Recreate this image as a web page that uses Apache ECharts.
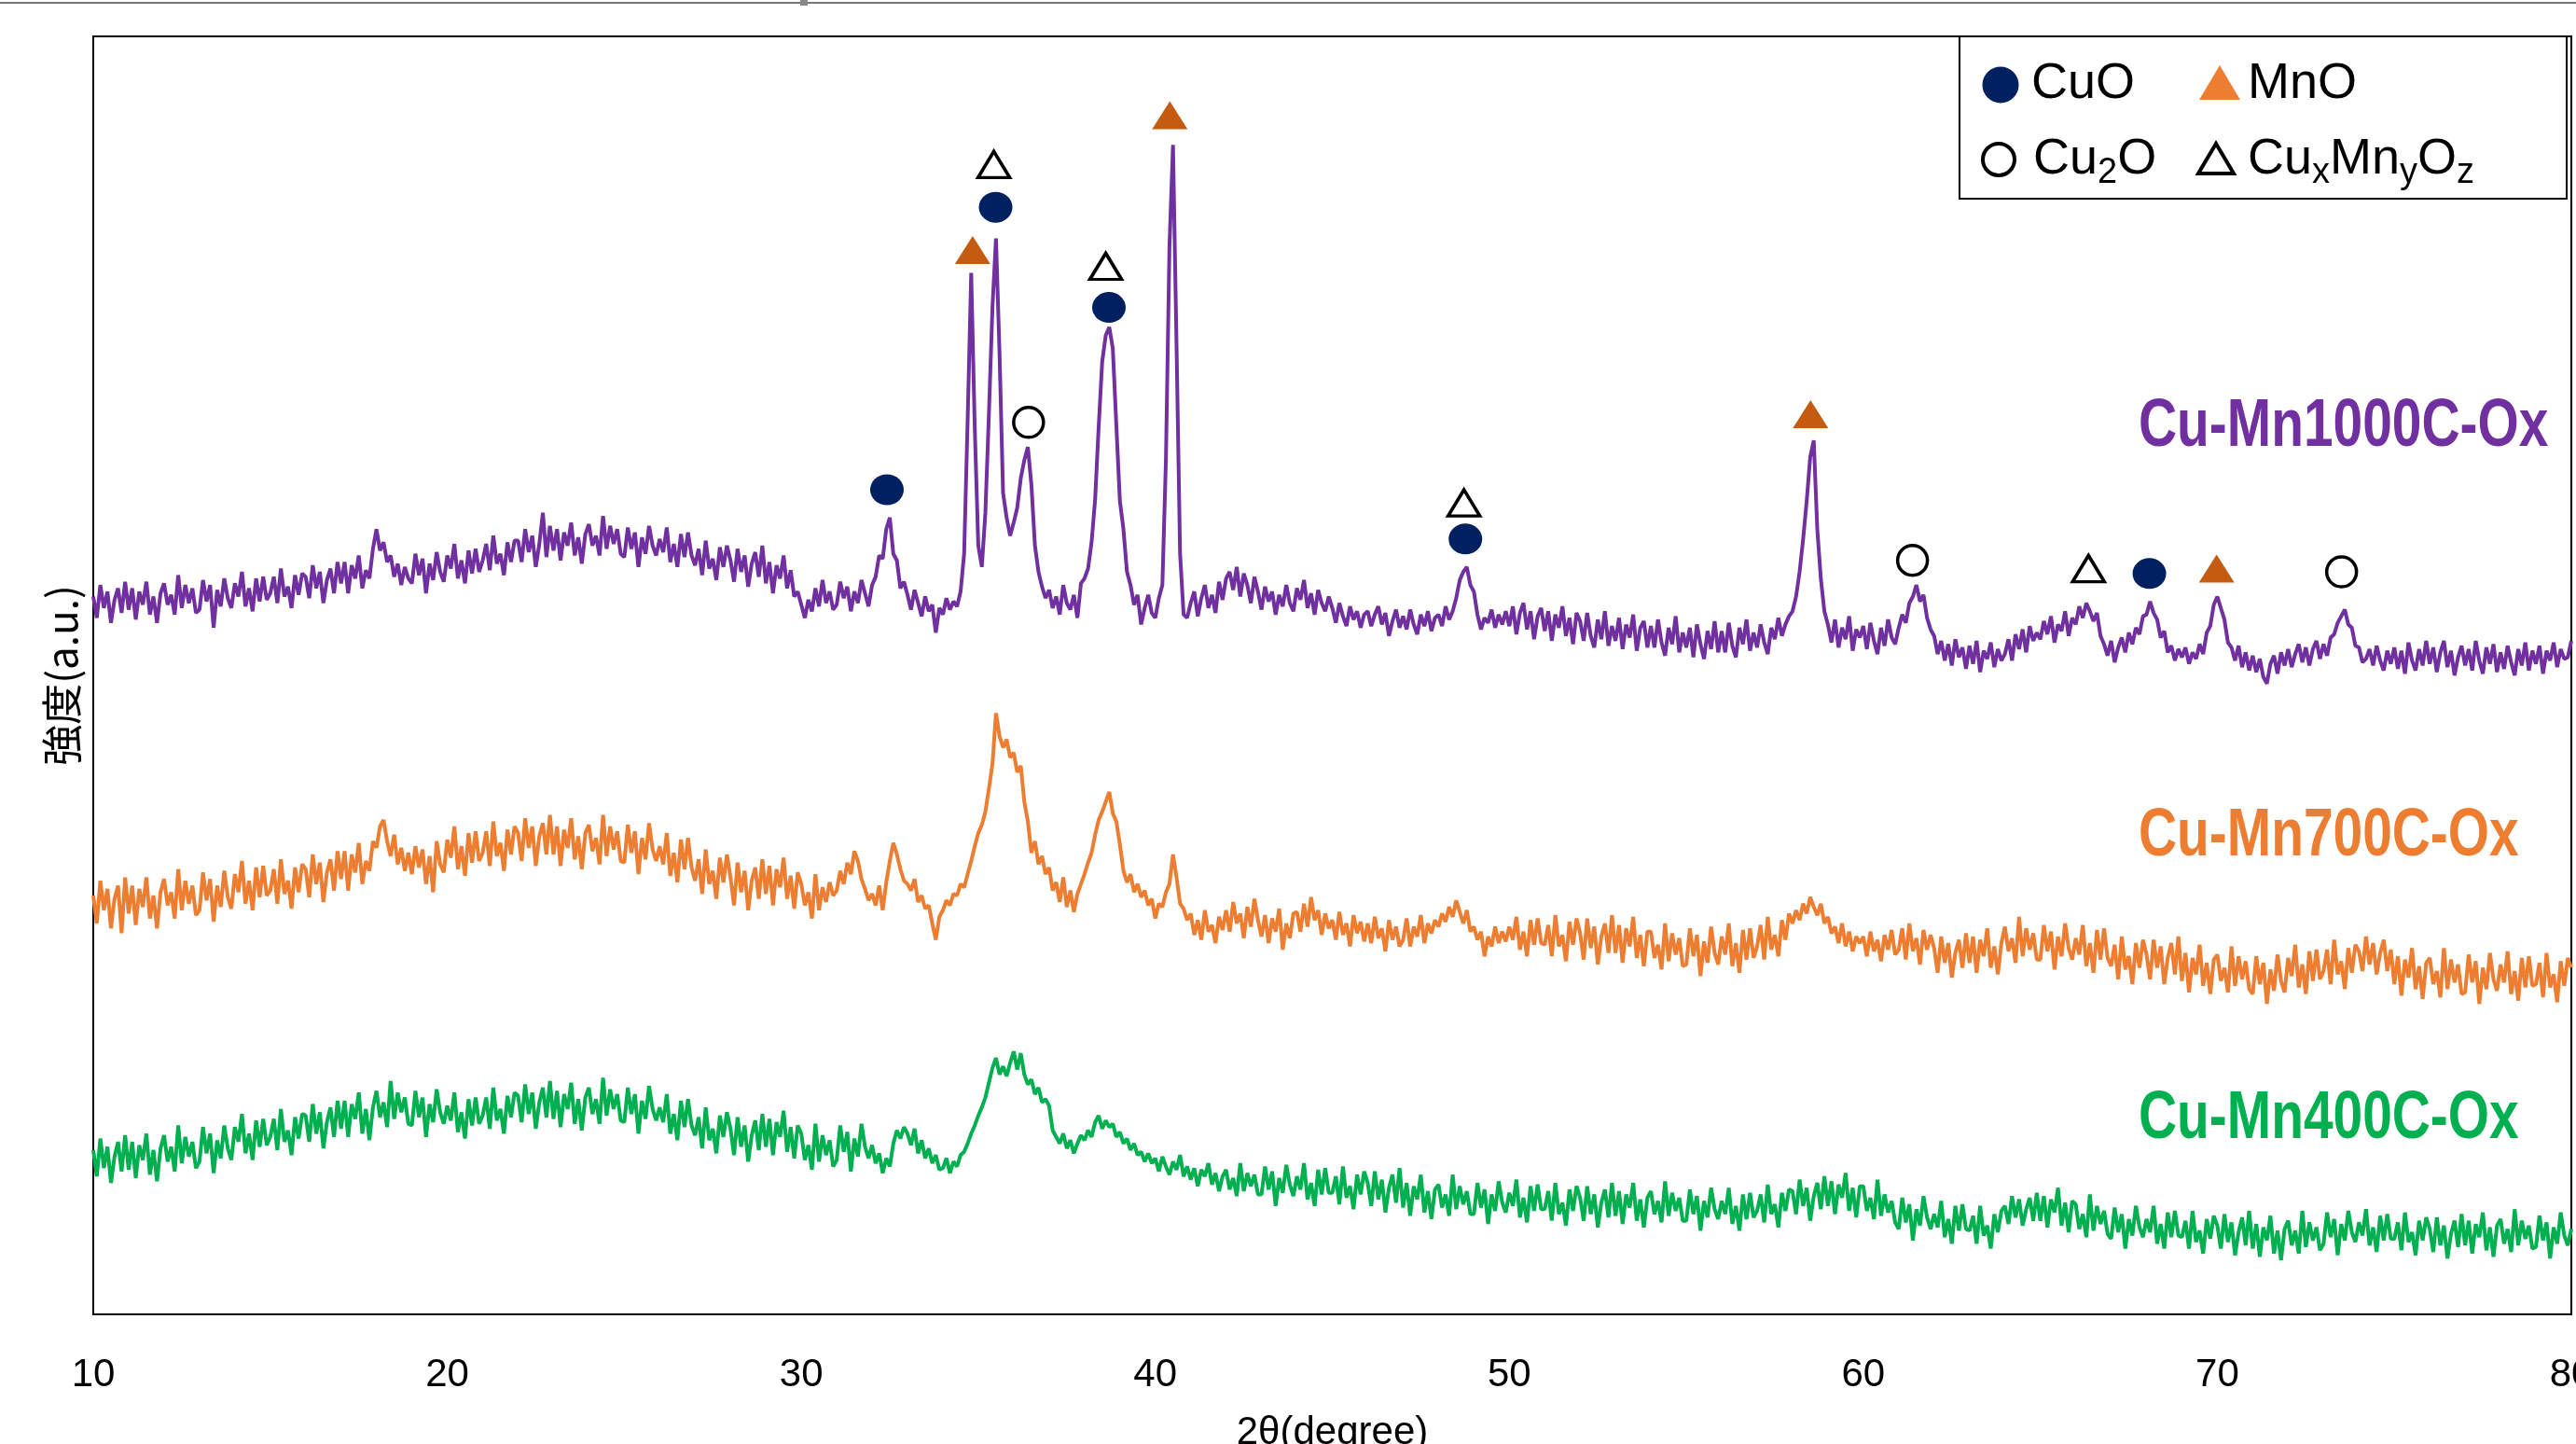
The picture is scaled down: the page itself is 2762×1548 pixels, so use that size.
<!DOCTYPE html>
<html>
<head>
<meta charset="utf-8">
<script src="https://cdn.jsdelivr.net/npm/echarts@6/dist/echarts.min.js"></script>
<style>
  html, body { margin: 0; padding: 0; background: #fff; overflow: hidden; }
  #box { width: 2762px; height: 1548px; }
</style>
</head>
<body>
<div id="box"></div>
<script>
// scan: 10-80 deg, 0.1 deg step, one row = 1 deg (arbitrary units)
var scanStart = 10, scanStep = 0.1;

var cuMn1000 = [
  437, 424, 444, 430, 440, 421, 435, 442, 427, 446,
  429, 442, 423, 440, 432, 446, 426, 437, 421, 439,
  445, 432, 438, 426, 450, 430, 444, 433, 442, 427,
  429, 447, 434, 444, 418, 441, 431, 448, 436, 430,
  445, 437, 452, 431, 442, 428, 448, 434, 449, 435,
  439, 449, 433, 454, 437, 443, 430, 450, 438, 451,
  449, 436, 456, 442, 452, 433, 447, 454, 439, 458,
  445, 458, 439, 456, 448, 462, 442, 453, 448, 466,
  478, 465, 470, 458, 462, 449, 457, 444, 455, 448,
  445, 463, 450, 460, 439, 457, 447, 464, 452, 446,
  462, 454, 469, 448, 459, 445, 465, 451, 466, 452,
  459, 469, 453, 474, 457, 463, 450, 470, 458, 471,
  471, 458, 478, 464, 474, 455, 469, 488, 461, 480,
  465, 478, 459, 476, 468, 482, 462, 473, 457, 475,
  481, 468, 474, 462, 486, 466, 480, 469, 478, 463,
  461, 479, 466, 476, 455, 473, 463, 480, 468, 462,
  472, 464, 479, 458, 469, 455, 475, 461, 476, 462,
  456, 466, 450, 471, 454, 460, 447, 467, 455, 468,
  459, 446, 466, 452, 462, 443, 457, 464, 449, 468,
  445, 458, 439, 456, 448, 462, 442, 453, 437, 440,
  432, 424, 435, 428, 442, 431, 447, 433, 440, 429,
  432, 446, 436, 443, 428, 440, 433, 447, 439, 431,
  444, 449, 462, 460, 478, 485, 463, 459, 442, 446,
  438, 429, 441, 433, 425, 437, 428, 432, 415, 430,
  426, 436, 429, 434, 431, 440, 463, 545, 634, 540,
  468, 455, 488, 548, 613, 655, 585, 500, 485, 474,
  482, 491, 509, 520, 528, 505, 468, 452, 443, 436,
  441, 430, 437, 426, 444, 433, 429, 438, 424, 445,
  448, 454, 470, 496, 540, 580, 596, 601, 588, 541,
  495, 478, 452, 444, 432, 438, 420, 430, 438, 427,
  424, 436, 444, 520, 650, 712, 590, 463, 426, 424,
  433, 440, 425, 436, 444, 430, 438, 427, 446, 435,
  448, 452, 441, 455, 437, 451, 444, 433, 449, 440,
  429, 443, 434, 440, 426, 438, 431, 444, 433, 428,
  442, 435, 447, 430, 439, 426, 441, 433, 428, 437,
  430, 421, 433, 425, 419, 431, 423, 428, 418, 426,
  428, 419, 426, 431, 420, 427, 413, 422, 429, 418,
  425, 417, 429, 420, 414, 426, 419, 428, 416, 424,
  426, 419, 431, 423, 428, 436, 447, 452, 455, 444,
  440, 426, 417, 424, 421, 429, 418, 426, 420, 428,
  419, 431, 414, 427, 433, 417, 428, 411, 425, 430,
  416, 428, 410, 426, 418, 431, 413, 424, 408, 427,
  422, 410, 427, 413, 406, 423, 411, 428, 407, 419,
  410, 424, 405, 420, 412, 426, 404, 418, 422, 406,
  419, 406, 423, 409, 401, 418, 408, 425, 403, 415,
  406, 418, 400, 420, 408, 399, 416, 405, 422, 403,
  416, 403, 421, 407, 400, 418, 408, 423, 404, 415,
  406, 420, 409, 402, 418, 411, 424, 413, 420, 425,
  428, 437, 452, 472, 495, 522, 532, 478, 448, 428,
  420, 409, 423, 406, 418, 411, 425, 404, 417, 412,
  419, 405, 421, 410, 402, 418, 407, 423, 412, 408,
  418, 426, 421, 433, 437, 444, 434, 438, 424, 417,
  413, 402, 410, 398, 408, 395, 411, 400, 406, 393,
  407, 396, 410, 391, 404, 399, 409, 394, 405, 398,
  402, 411, 398, 414, 405, 417, 403, 419, 410, 415,
  411, 422, 414, 425, 409, 420, 416, 428, 413, 424,
  420, 431, 424, 433, 428, 422, 427, 413, 408, 401,
  410, 397, 406, 412, 403, 415, 408, 418, 414, 425,
  426, 434, 427, 423, 412, 416, 403, 407, 398, 405,
  400, 406, 396, 403, 399, 408, 402, 415, 419, 432,
  437, 430, 423, 409, 406, 398, 407, 394, 403, 392,
  401, 391, 399, 388, 384, 396, 401, 390, 403, 395,
  405, 394, 402, 408, 397, 406, 395, 405, 410, 399,
  408, 401, 412, 414, 421, 425, 429, 420, 418, 407,
  406, 397, 399, 405, 395, 407, 398, 392, 404, 396,
  406, 393, 404, 390, 409, 398, 392, 405, 395, 410,
  396, 406, 391, 403, 410, 394, 404, 389, 400, 407,
  395, 405, 392, 410, 398, 390, 406, 396, 408, 391,
  403, 393, 407, 397, 389, 405, 395, 409, 392, 404,
  396, 407, 390, 404, 398, 409, 394, 405, 399, 400,
  410
];

var cuMn700 = [
  255, 238, 264, 246, 259, 235, 253, 261, 232, 266,
  244, 261, 237, 259, 248, 266, 241, 255, 235, 257,
  265, 249, 257, 241, 271, 246, 264, 250, 261, 243,
  246, 269, 252, 265, 239, 261, 248, 270, 254, 247,
  268, 257, 276, 250, 264, 246, 272, 254, 273, 255,
  258, 271, 250, 277, 256, 264, 247, 272, 257, 274,
  271, 254, 280, 262, 275, 251, 269, 277, 258, 282,
  265, 282, 258, 280, 269, 287, 262, 276, 270, 288,
  284, 297, 301, 288, 279, 292, 274, 284, 270, 281,
  268, 285, 272, 283, 262, 279, 257, 288, 274, 269,
  289, 278, 297, 271, 285, 267, 293, 275, 294, 276,
  281, 294, 273, 300, 279, 287, 270, 295, 280, 297,
  293, 276, 302, 284, 297, 273, 291, 299, 280, 304,
  280, 297, 273, 295, 284, 302, 277, 291, 271, 293,
  298, 282, 290, 274, 304, 279, 297, 283, 294, 276,
  275, 298, 281, 294, 268, 290, 277, 299, 283, 276,
  285, 274, 293, 267, 281, 263, 289, 271, 290, 272,
  264, 277, 256, 283, 262, 270, 253, 278, 263, 280,
  266, 249, 275, 257, 270, 246, 264, 272, 253, 277,
  256, 273, 249, 271, 260, 278, 253, 267, 247, 269,
  262, 249, 257, 241, 268, 246, 260, 251, 263, 255,
  258, 270, 262, 275, 268, 282, 276, 265, 259, 252,
  256, 249, 261, 246, 263, 276, 287, 280, 271, 264,
  262, 258, 265, 251, 255, 247, 249, 238, 228, 242,
  246, 252, 249, 256, 255, 262, 260, 268, 276, 285,
  293, 298, 306, 320, 335, 366, 352, 345, 350, 339,
  342, 330, 334, 312, 300, 281, 288, 274, 279, 268,
  272, 258, 263, 251, 266, 248, 258, 245, 256, 262,
  268, 275, 281, 292, 301, 306, 312, 318, 305, 300,
  286, 270, 263, 268, 257, 262, 254, 258, 249, 253,
  241, 250, 248, 257, 262, 280, 266, 250, 247, 240,
  244, 231, 240, 228, 246, 233, 237, 226, 242, 234,
  246, 233, 251, 238, 244, 229, 248, 236, 253, 240,
  230, 243, 226, 241, 233, 247, 222, 238, 229, 244,
  245, 233, 250, 236, 254, 240, 246, 231, 244, 235,
  240, 228, 245, 231, 238, 224, 243, 232, 239, 227,
  238, 226, 242, 229, 235, 221, 240, 228, 236, 224,
  228, 241, 224, 236, 230, 243, 226, 238, 232, 240,
  236, 244, 239, 248, 242, 252, 245, 238, 246, 233,
  236, 228, 233, 218, 230, 224, 236, 226, 233, 227,
  236, 228, 242, 222, 233, 218, 240, 225, 241, 226,
  225, 237, 218, 243, 224, 231, 215, 239, 225, 241,
  232, 216, 241, 223, 236, 213, 230, 238, 220, 243,
  220, 237, 214, 235, 224, 242, 217, 231, 212, 233,
  233, 217, 225, 210, 238, 215, 232, 219, 229, 212,
  213, 235, 218, 231, 206, 227, 214, 236, 220, 213,
  230, 219, 238, 212, 226, 208, 234, 216, 235, 217,
  224, 237, 216, 242, 222, 231, 218, 240, 228, 244,
  238, 246, 240, 250, 244, 254, 248, 243, 250, 238,
  242, 232, 236, 226, 238, 224, 233, 221, 230, 226,
  230, 218, 233, 221, 228, 215, 231, 222, 234, 219,
  222, 235, 216, 238, 221, 229, 213, 234, 222, 231,
  223, 208, 230, 214, 226, 205, 220, 228, 211, 232,
  214, 230, 208, 228, 218, 235, 211, 224, 207, 226,
  236, 221, 229, 214, 242, 218, 235, 222, 232, 216,
  216, 237, 221, 233, 210, 230, 218, 238, 223, 216,
  229, 219, 237, 212, 226, 208, 234, 216, 235, 217,
  212, 225, 204, 230, 210, 218, 201, 226, 211, 228,
  219, 204, 228, 211, 224, 201, 217, 226, 207, 230,
  203, 220, 196, 217, 207, 225, 200, 214, 195, 216,
  219, 203, 211, 196, 224, 200, 218, 204, 215, 198,
  195, 218, 201, 214, 189, 210, 197, 219, 203, 196,
  217, 206, 225, 199, 213, 195, 221, 203, 222, 204,
  209, 222, 201, 228, 207, 215, 198, 223, 208, 225,
  221, 209, 230, 213, 226, 207, 220, 228, 209, 222,
  201, 218, 194, 216, 205, 223, 198, 212, 192, 214,
  217, 201, 209, 193, 223, 198, 216, 202, 213, 195,
  196, 219, 202, 215, 189, 211, 198, 220, 204, 197,
  213, 202, 221, 195, 209, 191, 217, 199, 218, 200,
  201, 214, 193, 220, 199, 207, 190, 215, 200, 217,
  211
];

var cuMn400 = [
  100, 84, 107, 89, 102, 80, 96, 105, 87, 109,
  88, 105, 83, 103, 94, 110, 85, 100, 81, 101,
  109, 93, 102, 87, 115, 92, 108, 96, 105, 89,
  93, 114, 98, 110, 86, 106, 95, 115, 101, 94,
  114, 105, 122, 98, 110, 94, 118, 102, 119, 103,
  108, 119, 100, 125, 105, 112, 97, 120, 107, 122,
  121, 105, 128, 110, 123, 101, 117, 126, 108, 130,
  113, 130, 108, 128, 119, 135, 110, 125, 106, 126,
  136, 120, 129, 114, 142, 119, 135, 123, 132, 116,
  115, 136, 120, 132, 108, 128, 117, 137, 123, 116,
  127, 118, 135, 111, 123, 107, 131, 115, 132, 116,
  121, 132, 113, 138, 118, 125, 110, 133, 120, 135,
  133, 117, 140, 122, 135, 113, 129, 138, 120, 142,
  119, 136, 114, 134, 125, 141, 116, 131, 112, 132,
  138, 122, 131, 116, 144, 121, 137, 125, 134, 118,
  117, 138, 122, 134, 110, 130, 119, 139, 125, 118,
  126, 117, 134, 110, 122, 106, 130, 114, 131, 115,
  109, 120, 101, 126, 106, 113, 98, 121, 108, 123,
  113, 97, 120, 102, 115, 93, 109, 118, 100, 122,
  102, 119, 97, 117, 108, 124, 99, 114, 95, 115,
  110, 94, 103, 88, 116, 93, 109, 97, 106, 90,
  94, 115, 99, 111, 87, 107, 96, 116, 102, 95,
  103, 92, 98, 86, 95, 90, 104, 112, 107, 114,
  110, 103, 113, 98, 106, 95, 101, 92, 97, 88,
  89, 95, 86, 93, 90, 97, 99, 104, 110, 115,
  121, 126, 132, 141, 150, 156, 146, 151, 145, 153,
  160, 149, 159, 146, 140, 143, 134, 138, 129, 131,
  127, 112, 108, 104, 110, 101, 106, 98, 104, 109,
  106, 112, 108, 117, 121, 113, 118, 114, 116, 108,
  111, 104, 107, 100, 104, 97, 99, 93, 98, 92,
  95, 87, 96, 90, 85, 93, 88, 97, 84, 90,
  82, 89, 78, 88, 84, 92, 79, 86, 75, 84,
  88, 76, 83, 72, 92, 75, 86, 78, 85, 73,
  73, 90, 76, 87, 66, 83, 74, 91, 79, 72,
  84, 76, 92, 70, 80, 66, 88, 73, 89, 74,
  74, 84, 67, 90, 71, 78, 64, 85, 73, 87,
  80, 66, 87, 70, 82, 62, 77, 85, 68, 89,
  65, 80, 60, 78, 70, 85, 62, 75, 58, 76,
  79, 65, 73, 60, 85, 64, 78, 67, 75, 61,
  61, 80, 65, 76, 55, 73, 63, 81, 68, 62,
  74, 66, 82, 59, 71, 56, 78, 63, 79, 64,
  64, 75, 57, 80, 61, 68, 54, 76, 63, 78,
  71, 57, 78, 61, 73, 53, 68, 76, 59, 80,
  60, 75, 55, 73, 65, 80, 57, 70, 53, 71,
  75, 61, 69, 56, 81, 60, 74, 63, 71, 57,
  57, 76, 61, 72, 51, 69, 59, 77, 64, 58,
  69, 61, 77, 55, 66, 51, 73, 58, 74, 59,
  63, 73, 56, 79, 61, 67, 53, 74, 63, 76,
  75, 61, 82, 66, 77, 57, 72, 80, 64, 84,
  66, 81, 61, 79, 71, 86, 63, 77, 59, 78,
  78, 63, 71, 58, 82, 60, 73, 62, 69, 56,
  52, 71, 56, 67, 45, 64, 54, 72, 59, 52,
  61, 53, 69, 47, 58, 43, 66, 51, 67, 52,
  51, 60, 43, 66, 48, 54, 40, 61, 50, 63,
  66, 55, 72, 59, 70, 54, 64, 71, 57, 74,
  57, 72, 53, 70, 62, 77, 54, 68, 50, 69,
  67, 52, 61, 47, 73, 51, 66, 55, 63, 49,
  46, 65, 50, 61, 40, 58, 48, 66, 53, 47,
  58, 50, 66, 43, 55, 40, 62, 47, 63, 48,
  47, 57, 40, 63, 44, 51, 37, 58, 46, 60,
  54, 40, 61, 44, 56, 36, 50, 59, 42, 63,
  40, 55, 35, 53, 45, 60, 37, 51, 33, 52,
  57, 42, 51, 37, 63, 41, 56, 45, 53, 39,
  43, 62, 47, 58, 36, 55, 45, 63, 50, 44,
  56, 48, 64, 42, 53, 38, 60, 45, 61, 46,
  46, 56, 39, 62, 44, 50, 36, 57, 45, 59,
  52, 38, 59, 42, 54, 34, 49, 57, 41, 61,
  42, 57, 37, 55, 47, 62, 39, 53, 35, 54,
  58, 43, 52, 38, 64, 42, 57, 46, 54, 40,
  41, 60, 45, 56, 34, 53, 43, 62, 48, 42,
  52
];

// phase marks: [2theta, height]
var cuoMarks = [[32.42, 502], [35.49, 674], [38.69, 613], [48.76, 472], [68.08, 451]];
var mnoMarks = [[34.84, 648], [40.41, 730], [58.51, 548], [69.98, 454]];
var cu2oMarks = [[36.42, 543], [61.39, 459], [73.51, 452]];
var cuxMnyOzMarks = [[35.44, 700], [38.6, 638], [48.72, 494], [66.36, 454]];

var xTicks = [10, 20, 30, 40, 50, 60, 70, 80];

function toPairs(arr) {
  return arr.map(function (v, i) {
    return [+(scanStart + i * scanStep).toFixed(1), v];
  });
}

var font = 'Liberation Sans';
var ctx = document.createElement('canvas').getContext('2d');
function textW(s, size) {
  ctx.font = size + 'px "' + font + '"';
  return ctx.measureText(s).width;
}
// text with subscripts, parts: [text, isSub]
function subText(parts, x0, cy) {
  var els = [];
  var x = x0;
  parts.forEach(function (p) {
    var size = p[1] ? 38 : 54;
    els.push({
      type: 'text', x: x, y: p[1] ? cy + 15 : cy, z: 20,
      style: {
        text: p[0], fontSize: size, fontFamily: font, fill: '#000',
        textVerticalAlign: 'middle', verticalAlign: 'middle'
      }
    });
    x += textW(p[0], size);
  });
  return els;
}

function sampleLabel(txt, color, y) {
  return {
    type: 'text', x: 2293, y: y, scaleX: 0.79, z: 20,
    style: {
      text: txt, fontSize: 72, fontWeight: 'bold', fontFamily: font, fill: color,
      textVerticalAlign: 'middle', verticalAlign: 'middle'
    }
  };
}

var chartDom = document.getElementById('box');
var myChart = echarts.init(chartDom);
var option;

var legendEls = [
  { type: 'rect', z: 19, shape: { x: 2101, y: 39, width: 651, height: 174 },
    style: { fill: '#fff', stroke: '#000', lineWidth: 2 } },
  { type: 'circle', z: 20, shape: { cx: 2145, cy: 91, r: 19.5 }, style: { fill: '#002060' } },
  { type: 'polygon', z: 20, shape: { points: [[2358, 107], [2402, 107], [2380, 70]] }, style: { fill: '#ED7D31' } },
  { type: 'circle', z: 20, shape: { cx: 2143, cy: 171, r: 17 }, style: { fill: '#fff', stroke: '#000', lineWidth: 4 } },
  { type: 'polygon', z: 20, shape: { points: [[2357, 186], [2395, 186], [2376, 154]] }, style: { fill: '#fff', stroke: '#000', lineWidth: 4 } }
];
legendEls = legendEls
  .concat(subText([['CuO', false]], 2178, 90))
  .concat(subText([['MnO', false]], 2410, 90))
  .concat(subText([['Cu', false], ['2', true], ['O', false]], 2180, 171))
  .concat(subText([['Cu', false], ['x', true], ['Mn', false], ['y', true], ['O', false], ['z', true]], 2410, 171));

option = {
  animation: false,
  backgroundColor: '#fff',
  grid: {
    left: 100, right: 5, top: 39, bottom: 139,
    outerBoundsMode: 'none',
    containLabel: false,
    show: true, borderColor: '#000', borderWidth: 2
  },
  xAxis: {
    type: 'value',
    min: xTicks[0],
    max: xTicks[xTicks.length - 1],
    interval: 10,
    axisLine: { show: true, onZero: false, lineStyle: { color: '#000', width: 2 } },
    axisTick: { show: false },
    splitLine: { show: false },
    axisLabel: { fontSize: 42, color: '#000', margin: 44, fontFamily: font, showMinLabel: true, showMaxLabel: true },
    name: '2θ(degree)',
    nameLocation: 'middle',
    nameGap: 106,
    nameTextStyle: { fontSize: 42, color: '#000', fontFamily: font }
  },
  yAxis: {
    type: 'value',
    min: 0,
    max: 778,
    axisLine: { show: false },
    axisTick: { show: false },
    axisLabel: { show: false },
    splitLine: { show: false },
    name: '強度(a.u.)',
    nameLocation: 'middle',
    nameGap: 12,
    nameTextStyle: { fontSize: 44, color: '#000', fontFamily: 'Noto Sans CJK JP' }
  },
  graphic: [
    { type: 'line', shape: { x1: 0, y1: 3, x2: 2762, y2: 3 }, style: { stroke: '#777', lineWidth: 2 } },
    { type: 'rect', shape: { x: 858, y: 0, width: 8, height: 6 }, style: { fill: '#888' } },
    sampleLabel('Cu-Mn1000C-Ox', '#7030A0', 458),
    sampleLabel('Cu-Mn700C-Ox', '#ED7D31', 897),
    sampleLabel('Cu-Mn400C-Ox', '#00B050', 1200)
  ].concat(legendEls),
  series: [
    {
      name: 'Cu-Mn1000C-Ox', type: 'line', showSymbol: false, z: 3,
      lineStyle: { color: '#7030A0', width: 4 },
      data: toPairs(cuMn1000)
    },
    {
      name: 'Cu-Mn700C-Ox', type: 'line', showSymbol: false, z: 3,
      lineStyle: { color: '#ED7D31', width: 4 },
      data: toPairs(cuMn700)
    },
    {
      name: 'Cu-Mn400C-Ox', type: 'line', showSymbol: false, z: 3,
      lineStyle: { color: '#00B050', width: 4 },
      data: toPairs(cuMn400)
    },
    {
      name: 'CuO', type: 'scatter', z: 5, symbol: 'circle', symbolSize: [36, 33],
      itemStyle: { color: '#002060', opacity: 1 },
      data: cuoMarks
    },
    {
      name: 'MnO', type: 'scatter', z: 5, symbol: 'triangle', symbolSize: [38, 30],
      itemStyle: { color: '#C55A11', opacity: 1 },
      data: mnoMarks
    },
    {
      name: 'Cu2O', type: 'scatter', z: 5, symbol: 'circle', symbolSize: 32,
      itemStyle: { color: '#fff', borderColor: '#000', borderWidth: 3.5, opacity: 1 },
      data: cu2oMarks
    },
    {
      name: 'CuxMnyOz', type: 'scatter', z: 5, symbol: 'triangle', symbolSize: [34, 28],
      itemStyle: { color: '#fff', borderColor: '#000', borderWidth: 3.5, opacity: 1 },
      data: cuxMnyOzMarks
    }
  ]
};
option && myChart.setOption(option);
</script>
</body>
</html>
